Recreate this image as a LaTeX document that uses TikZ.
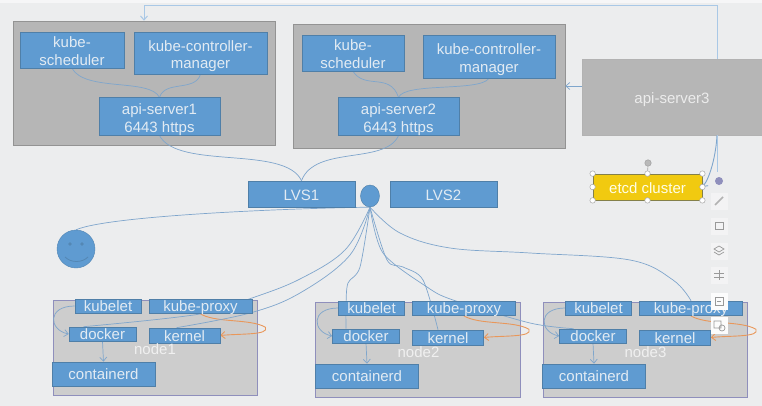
\documentclass[tikz,border=0pt]{standalone}
\usepackage{fontspec}
\setmainfont{Liberation Sans}
\usetikzlibrary{arrows.meta,calc,shapes.geometric}
\definecolor{bgc}{HTML}{ECEDEE}
\definecolor{bluebox}{HTML}{5F9BD1}
\definecolor{blueedge}{HTML}{4F7FA8}
\definecolor{panelc}{HTML}{B6B6B6}
\definecolor{paneln}{HTML}{CDCDCD}
\definecolor{linec}{HTML}{7FA6CC}
\definecolor{linel}{HTML}{A9C8E6}
\definecolor{orangec}{HTML}{E9975A}
\definecolor{boxtext}{HTML}{E2EBF3}
\pgfdeclarelayer{back}
\pgfdeclarelayer{panels}
\pgfdeclarelayer{lines}
\pgfsetlayers{back,panels,lines,main}
\tikzset{
 bluenode/.style={fill=bluebox,draw=blueedge,line width=.6pt,text=boxtext,inner sep=0pt,align=center,font=\fontsize{15}{17.5}\selectfont},
 smallblue/.style={bluenode,font=\fontsize{15}{15}\selectfont},
 greypanel/.style={fill=panelc,draw=gray!85,line width=.6pt,inner sep=0pt},
 nodepanel/.style={fill=paneln,draw=gray!75!blue!70,line width=.7pt,inner sep=0pt},
 linkline/.style={draw=linec,line width=.7pt},
 lightline/.style={draw=linel,line width=1pt},
 opentip/.style={-{Straight Barb[length=4pt,width=7pt]}},
 orangeline/.style={draw=orangec,line width=.9pt,-{Straight Barb[length=4pt,width=7pt]}},
 handle/.style={circle,fill=white,draw=gray!70,line width=.5pt,minimum size=5.5pt,inner sep=0pt},
 toolbtn/.style={fill=white!35!bgc,draw=none,minimum size=17pt,inner sep=0pt},
 toolbtnw/.style={fill=white!85!bgc,draw=none,minimum size=17pt,inner sep=0pt},
 iconline/.style={draw=gray!80,line width=.7pt},
}
% zero-size line, its baseline 5.5 below the box centre
\newcommand{\low}[1]{\raisebox{-5.5pt}[0pt][0pt]{#1}}
% strut on the first line lowers a block of text
\newcommand{\dn}[1]{\rule{0pt}{#1pt}}
\newcommand{\bx}[7]{% name,x1,y1,x2,y2,style,text
 \node[#6,minimum width={((#4)-(#2))*1pt},minimum height={((#5)-(#3))*1pt}] (#1) at ({((#2)+(#4))/2},{((#3)+(#5))/2}) {#7};}
\newcommand{\workerpanel}[7]{% suffix,dx,dy(panel top offset),label,panel x1,x2, label y
 \begin{pgfonlayer}{panels}
 \bx{panel#1}{#5}{#3+300}{#6}{#3+395}{nodepanel}{}
 \end{pgfonlayer}
 \bx{kubelet#1}{#2+75}{#3+299}{#2+141}{#3+313}{smallblue}{\low{kubelet}}
 \bx{proxy#1}{#2+149}{#3+299}{#2+252}{#3+313}{smallblue}{\low{kube-proxy}}
 \bx{docker#1}{#2+69}{#3+327}{#2+136}{#3+341}{smallblue}{\low{docker}}
 \bx{kernel#1}{#2+149}{#3+328}{#2+220}{#3+343}{smallblue}{\low{kernel}}
 \bx{containerd#1}{#2+52}{#3+362}{#2+155}{#3+386}{smallblue}{\low{containerd}}
 \node[text=white!88!gray,font=\fontsize{15}{15}\selectfont] (label#1) at (#2+155,#7) {#4};
 \begin{pgfonlayer}{lines}
 \draw[linkline,opentip] (kubelet#1.west) .. controls +(-28,0) and +(-20,-4) .. (docker#1.west);
 \draw[linkline,opentip] (docker#1.south) -- (containerd#1.north);
 \draw[orangeline] ([xshift=-1pt]proxy#1.south) .. controls +(15,10) and +(-15,-9) .. ++(66,14) .. controls +(4,8) and +(20,-2) .. (kernel#1.east);
 \end{pgfonlayer}
}
\begin{document}
\begin{tikzpicture}[x=1pt,y=-1pt]
\useasboundingbox (0,0) rectangle (762,406);
\begin{pgfonlayer}{back}
\fill[bgc] (0,0) rectangle (762,406);
\fill[white!50!bgc] (0,0) rectangle (762,3);
\end{pgfonlayer}
% upper panels
\begin{pgfonlayer}{panels}
\bx{masterA}{13}{21}{275}{145}{greypanel}{}
\bx{masterB}{293}{24}{565}{148}{greypanel}{}
\bx{apithree}{582}{59}{762}{135}{greypanel,draw=gray!60,text=white!85!gray,font=\fontsize{15}{18}\selectfont}{\dn{17}api-server3}
\end{pgfonlayer}
\bx{schedA}{20}{32}{124}{68}{bluenode}{\dn{13}kube-\\scheduler}
\bx{kcmA}{134}{32}{267}{74}{bluenode}{\dn{17}kube-controller-\\manager}
\bx{apiA}{99}{98}{220}{135}{bluenode}{\dn{17}api-server1\\6443 https}
\bx{schedB}{302}{35}{404}{71}{bluenode}{\dn{13}kube-\\scheduler}
\bx{kcmB}{423}{35}{555}{78}{bluenode}{\dn{17}kube-controller-\\manager}
\bx{apiB}{338}{98}{459}{135}{bluenode}{\dn{17}api-server2\\6443 https}
\bx{lvsA}{248}{181}{355}{207}{bluenode}{\dn{13}LVS1}
\bx{lvsB}{390}{181}{497}{207}{bluenode}{\dn{13}LVS2}
\node[ellipse,fill=bluebox,draw=blueedge,line width=.4pt,minimum width=19pt,minimum height=22pt,inner sep=0pt] (vip) at (370,196) {};
\bx{etcd}{593}{174}{702}{200}{fill=yellow!70!orange!95!black,draw=black!55!yellow,line width=.8pt,text=white!90!yellow,font=\fontsize{15}{15}\selectfont,inner sep=0pt}{\dn{13}etcd cluster}
% smiley
\node[circle,fill=bluebox,draw=blueedge!70!bluebox,line width=.4pt,minimum size=38pt,inner sep=0pt] (smiley) at (76,249) {};
\fill[blueedge!70!bluebox] (70,244) circle (1.8) (82,244) circle (1.8);
\draw[blueedge!70!bluebox,line width=.8pt] (65,257) .. controls (71,263) and (82,263) .. (88,257);
% worker nodes
\workerpanel{A}{0}{0}{node1}{53}{257}{349}
\workerpanel{B}{263.5}{2}{node2}{315}{520}{352}
\workerpanel{C}{490.5}{2}{node3}{543}{747}{352}
\begin{pgfonlayer}{lines}
% control plane links
\draw[linkline] (schedA.south) .. controls (85,92) and (150,78) .. (apiA.north);
\draw[linkline] (kcmA.south) .. controls (195,92) and (165,80) .. (apiA.north);
\draw[linkline] (schedB.south) .. controls (365,90) and (390,72) .. (apiB.north);
\draw[linkline] (kcmB.south) .. controls (480,92) and (405,82) .. (apiB.north);
\draw[linkline] (apiA.south) .. controls (178,170) and (285,145) .. (lvsA.north);
\draw[linkline] (apiB.south) .. controls (385,165) and (315,145) .. (lvsA.north);
% api-server3 links
\draw[lightline,opentip] ([xshift=45pt]apithree.north) -- ++(0,-53) -| (masterA.north);
\draw[linkline,opentip] (apithree.west |- masterB.east) -- (masterB.east);
\coordinate (apibottom) at ([xshift=45pt]apithree.south);
\draw[linkline,line width=.9pt,opentip] (apibottom) .. controls (716,155) and (710,178) .. (etcd.east);
\draw[lightline] (apibottom) -- (717,172);
% service links
\draw[linkline] (vip.south) .. controls (300,208) and (110,215) .. (smiley.north);
\draw[linkline] plot[smooth,tension=.6] coordinates {(vip.south) (345,250) (300,279) (252,298) (200,314) ([xshift=-19pt]dockerA.north)};
\draw[linkline] plot[smooth,tension=.6] coordinates {(vip.south) (350,255) (300,293) (250,313) ([xshift=-8pt]kernelA.north)};
\draw[linkline] plot[smooth,tension=.5] coordinates {(vip.south) (360,267) (348,283) (346,305) ([xshift=-20pt]dockerB.north)};
\draw[linkline] plot[smooth,tension=.5] coordinates {(vip.south) (387,260) (403,267) (423,280) ([xshift=-10pt]kernelB.north)};
\draw[linkline] plot[smooth,tension=.5] coordinates {(vip.south) (383,253) (427,287) (453,300) (530,323) ([xshift=-19.5pt]dockerC.north)};
\draw[linkline] plot[smooth,tension=.6] coordinates {(vip.south) (400,233) (450,248) (530,253) (630,260) (673,280) (proxyC.north)};
\end{pgfonlayer}
% selection handles
\draw[gray!70,line width=.6pt] (etcd.north) -- (648,164);
\node[circle,fill=gray!55,draw=gray!80,minimum size=6.5pt,inner sep=0pt] (rot) at (648,163) {};
\foreach \n/\a in {h1/north west,h2/north,h3/north east,h4/west,h5/east,h6/south west,h7/south,h8/south east}{
 \node[handle] (\n) at (etcd.\a) {};
}
\node[circle,fill=blue!25!gray!70,minimum size=8pt,inner sep=0pt] (bluedot) at (719,181) {};
% toolbar
\foreach \n/\yy in {t1/201,t2/226,t3/251,t4/275}{
 \node[toolbtn] (\n) at (719,\yy) {};
}
\foreach \n/\yy in {t5/301,t6/325}{
 \node[toolbtnw] (\n) at (719,\yy) {};
}
\draw[gray!60,line width=1.6pt] (715,205) -- (723,197);
\draw[iconline] (715,222) rectangle (723,229);
\draw[iconline] (714,249) -- (719,246) -- (724,249) -- (719,252) -- cycle (714,252) -- (719,255) -- (724,252);
\draw[iconline] (714,273) -- (724,273) (714,277) -- (724,277) (719,270) -- (719,280);
\draw[iconline] (715,297) rectangle (723,305) (717,301) -- (721,301);
\draw[iconline] (714,321) rectangle (721,328) (722,328) circle (3);
\end{tikzpicture}
\end{document}
